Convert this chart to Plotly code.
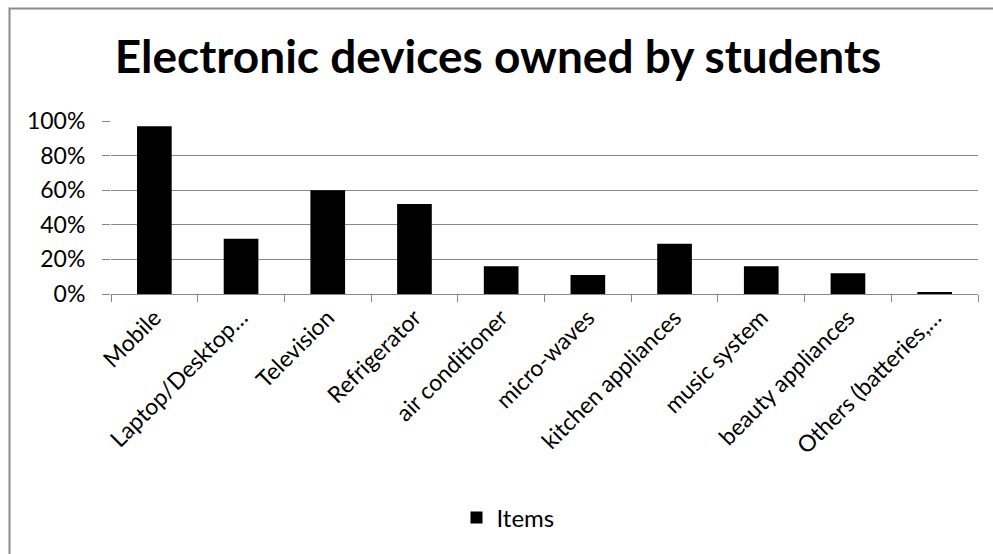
import plotly.graph_objects as go

# Share of students owning each kind of electronic device
categories = [
    "Mobile",
    "Laptop/Desktop…",
    "Television",
    "Refrigerator",
    "air conditioner",
    "micro-waves",
    "kitchen appliances",
    "music system",
    "beauty appliances",
    "Others (batteries,…",
]
items = [0.97, 0.32, 0.60, 0.52, 0.16, 0.11, 0.29, 0.16, 0.12, 0.01]
y_ticks = [0, 0.2, 0.4, 0.6, 0.8, 1.0]
y_tick_labels = ["0%", "20%", "40%", "60%", "80%", "100%"]

W, H = 993, 554
L, R, T, B = 111, 15, 121, 260
pw, ph = W - L - R, H - T - B

def px_x(x):
    return (x - L) / pw

def px_y(y):
    return (H - B - y) / ph

font_family = "Lato, 'Open Sans', sans-serif"
grid_col = "#878787"

fig = go.Figure()
fig.add_trace(go.Bar(
    x=categories,
    y=items,
    name="Items",
    marker=dict(color="#000000", line=dict(width=0)),
    showlegend=True,
))

fig.update_layout(
    width=W,
    height=H,
    margin=dict(l=L, r=R, t=T, b=B, autoexpand=False),
    paper_bgcolor="white",
    plot_bgcolor="white",
    bargap=0.6,
    title=dict(
        text="<b>Electronic devices owned by students</b>",
        x=498 / W,
        xanchor="center",
        xref="container",
        y=1 - 57 / H,
        yanchor="middle",
        font=dict(family=font_family, size=46, color="#000000"),
    ),
    font=dict(family=font_family, color="#000000"),
    showlegend=True,
    legend=dict(
        orientation="h",
        x=px_x(508),
        xanchor="center",
        y=px_y(518),
        yanchor="middle",
        font=dict(size=24, color="#000000"),
        itemwidth=30,
        bgcolor="rgba(0,0,0,0)",
    ),
    xaxis=dict(
        type="category",
        tickangle=-45,
        tickfont=dict(size=23, color="#000000"),
        showline=True,
        linecolor=grid_col,
        linewidth=1.3,
        ticks="outside",
        tickson="boundaries",
        ticklen=7,
        tickcolor=grid_col,
        tickwidth=1.3,
        showgrid=False,
        fixedrange=True,
    ),
    yaxis=dict(
        range=[0, 1.0],
        tickvals=y_ticks,
        ticktext=y_tick_labels,
        tickfont=dict(size=23, color="#000000"),
        showgrid=True,
        gridcolor=grid_col,
        gridwidth=1.3,
        showline=False,
        ticks="outside",
        ticklen=8,
        tickcolor=grid_col,
        tickwidth=1.3,
        ticklabelstandoff=12,
        zeroline=False,
        fixedrange=True,
    ),
    shapes=[
        dict(
            type="rect",
            xref="paper",
            yref="paper",
            x0=px_x(9.5),
            x1=px_x(1010),
            y0=px_y(570),
            y1=px_y(8.5),
            line=dict(color="#8a8a8a", width=2),
            fillcolor="rgba(0,0,0,0)",
            layer="below",
        )
    ],
)

fig.write_html("out.html")
